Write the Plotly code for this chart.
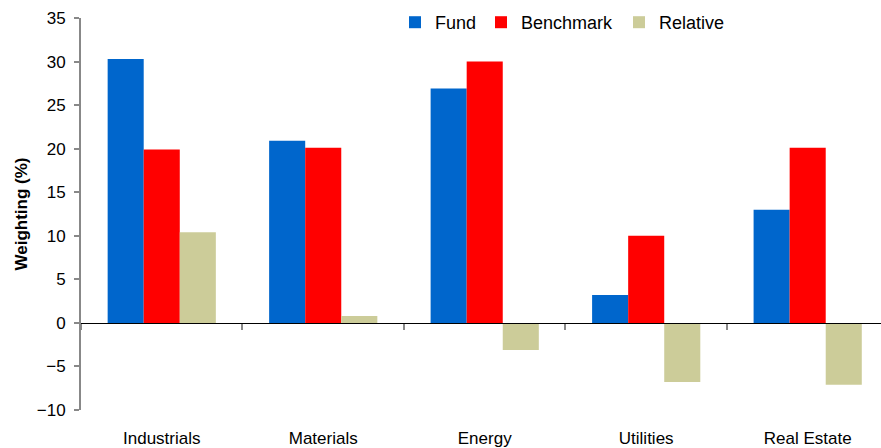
import plotly.graph_objects as go

categories = ["Industrials", "Materials", "Energy", "Utilities", "Real Estate"]
fund = [30.3, 20.9, 26.9, 3.2, 13.0]
benchmark = [19.9, 20.1, 30.0, 10.0, 20.1]
relative = [10.4, 0.8, -3.1, -6.8, -7.1]
y_ticks = [-10, -5, 0, 5, 10, 15, 20, 25, 30, 35]

FONT = "Liberation Sans, Arial, sans-serif"
AXIS_GREY = "#888888"

series = [
    ("Fund", fund, "#0066CC", "legend", 0.3925),
    ("Benchmark", benchmark, "#FF0000", "legend2", 0.50),
    ("Relative", relative, "#CCCC99", "legend3", 0.6725),
]

fig = go.Figure()
for name, vals, color, leg, _ in series:
    fig.add_trace(go.Bar(name=name, x=categories, y=vals, legend=leg,
                         marker=dict(color=color, line=dict(width=0))))

# invisible trace so the category axis crossing at zero is drawn
fig.add_trace(go.Scatter(x=categories, y=[0] * len(categories), xaxis="x2", mode="markers",
                         marker=dict(opacity=0), showlegend=False, hoverinfo="skip"))

x_range = [-0.5, 4.454]

legend_style = dict(orientation="h", y=0.9885, xanchor="left", yanchor="middle",
                    font=dict(size=18), bgcolor="rgba(0,0,0,0)", itemwidth=30)
legends = {leg: dict(legend_style, x=lx) for _, _, _, leg, lx in series}

fig.update_layout(
    width=881, height=448,
    margin=dict(l=81, r=0, t=18, b=38),
    paper_bgcolor="white", plot_bgcolor="white",
    barmode="group", bargap=0.33, bargroupgap=0,
    font=dict(family=FONT, size=17, color="#000000"),
    **legends,
    xaxis=dict(type="category", range=x_range, showline=False, showgrid=False, zeroline=False,
               ticks="", ticklabelstandoff=16, tickfont=dict(size=17)),
    xaxis2=dict(type="category", overlaying="x", anchor="free", position=10 / 45,
                range=x_range, showline=True, linecolor="#000000", linewidth=1,
                ticks="outside", tickson="boundaries", ticklen=6, tickwidth=1.5,
                tickcolor=AXIS_GREY, showticklabels=False, showgrid=False, zeroline=False),
    yaxis=dict(range=[-10, 35], tickvals=y_ticks, showgrid=False, zeroline=False,
               showline=True, linecolor=AXIS_GREY, linewidth=2,
               ticks="outside", ticklen=5, tickwidth=1.5, tickcolor=AXIS_GREY,
               ticklabelstandoff=5, tickfont=dict(size=17),
               title=dict(text="<b>Weighting (%)</b>", font=dict(size=17), standoff=5)),
)

fig.write_html("out.html")
